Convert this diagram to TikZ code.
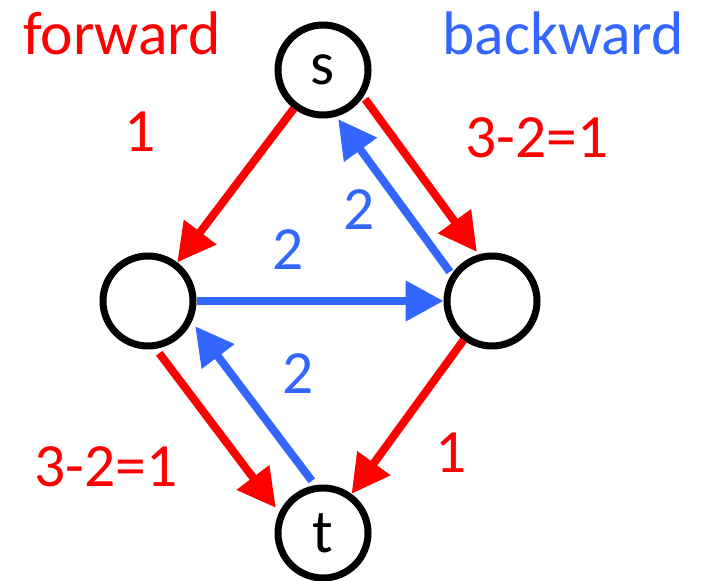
\documentclass[tikz,border=0pt]{standalone}
\usepackage{fontspec}
\setmainfont{Carlito}
\usetikzlibrary{arrows.meta}
\definecolor{myred}{RGB}{255,0,0}
\definecolor{myblue}{RGB}{51,102,255}

\begin{document}
\begin{tikzpicture}[font=\fontsize{35}{42}\selectfont,
  vertex/.style={circle, draw=black, line width=0.14cm, minimum size=1.8cm, inner sep=0pt},
  fwd/.style={myred, line width=0.16cm, -{Triangle[length=0.76cm, width=0.78cm]}},
  bwd/.style={myblue, line width=0.16cm, -{Triangle[length=0.76cm, width=0.78cm]}}]
  \useasboundingbox (0,0) rectangle (14.04,11.6);
  % Vertices
  \node[vertex] (s) at (6.46,10.2) {s};
  \node[vertex] (l) at (2.96,5.58) {};
  \node[vertex] (r) at (9.84,5.58) {};
  \node[vertex] (t) at (6.46,0.94) {t};
  % Forward edges
  \draw[fwd] (s) -- (l);
  \draw[fwd, transform canvas={shift={(0.27,0.2)}}] (s) -- (r);
  \draw[fwd, transform canvas={shift={(-0.36,-0.27)}}] (l) -- (t);
  \draw[fwd] (r) -- (t);
  % Backward edges
  \draw[bwd] (l) -- (r);
  \draw[bwd, transform canvas={shift={(-0.27,-0.2)}}] (r) -- (s);
  \draw[bwd, transform canvas={shift={(0.36,0.27)}}] (t) -- (l);
  % Labels
  \node[anchor=base, text=myred] (fwdtitle) at (2.44,10.5) {forward};
  \node[anchor=base, text=myblue] (bwdtitle) at (11.26,10.5) {backward};
  \node[anchor=base, text=myred] (csl) at (2.8,8.56) {1};
  \node[anchor=base, text=myred] (csr) at (10.74,8.44) {3-2=1};
  \node[anchor=base, text=myblue] (frs) at (7.18,7.0) {2};
  \node[anchor=base, text=myblue] (flr) at (5.76,6.22) {2};
  \node[anchor=base, text=myblue] (ftl) at (5.96,3.74) {2};
  \node[anchor=base, text=myred] (clt) at (2.12,1.88) {3-2=1};
  \node[anchor=base, text=myred] (crt) at (9.02,2.16) {1};
\end{tikzpicture}
\end{document}
